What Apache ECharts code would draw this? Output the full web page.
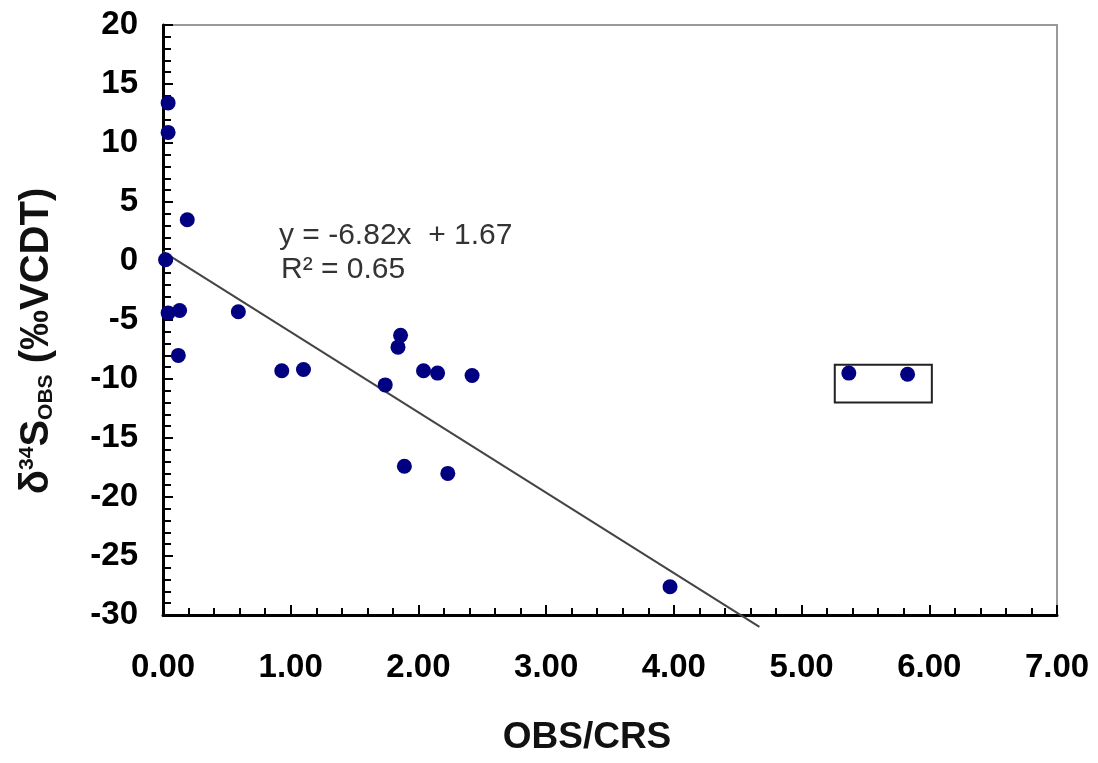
<!DOCTYPE html>
<html>
<head>
<meta charset="utf-8">
<script src="https://cdn.jsdelivr.net/npm/echarts@6/dist/echarts.min.js"></script>
<style>html,body{margin:0;padding:0;background:#fff;}#c{width:1098px;height:763px;}</style>
</head>
<body>
<div id="c"></div>
<script>
const obsCrs = [0.04, 0.04, 0.19, 0.02, 0.04, 0.13, 0.12, 0.59, 0.93, 1.10, 1.74, 1.86, 1.84, 2.04, 2.15, 2.42, 1.89, 2.23, 3.97, 5.37, 5.83];
const d34S   = [13.4, 10.9, 3.5, 0.1, -4.4, -4.2, -8.0, -4.3, -9.3, -9.2, -10.5, -6.3, -7.3, -9.3, -9.5, -9.7, -17.4, -18.0, -27.6, -9.5, -9.6];
const trendX = [0, 4.67];
const trendY = [0.8, -31.0];
const boxCorners = [[5.26, -8.8], [6.02, -12.0]];
const eqLine1 = 'y = -6.82x  + 1.67';
const eqLine2 = 'R² = 0.65';

const pts = obsCrs.map((x, i) => [x, d34S[i]]);
const trend = trendX.map((x, i) => [x, trendY[i]]);

const tickLabel = {
  fontFamily: 'Liberation Sans, Arial, sans-serif',
  fontWeight: 'bold',
  fontSize: 33,
  color: '#000',
  textShadowColor: 'rgba(0,0,0,0.35)',
  textShadowOffsetX: 1,
  textShadowOffsetY: 2
};
const ff = 'Liberation Sans, Arial, sans-serif';

const chart = echarts.init(document.getElementById('c'));
chart.setOption({
  animation: false,
  backgroundColor: '#fff',
  grid: { left: 163, top: 25, right: 41, bottom: 148, show: true, borderColor: '#999', borderWidth: 2, backgroundColor: '#fff' },
  xAxis: {
    type: 'value', min: 0, max: 7, interval: 1,
    name: 'OBS/CRS', nameLocation: 'middle', nameGap: 104,
    nameTextStyle: { fontFamily: ff, fontWeight: 'bold', fontSize: 37, color: '#111', padding: [0, 46, 0, 0] },
    axisLine: { onZero: false, lineStyle: { color: '#000', width: 3 } },
    axisTick: { inside: true, length: 10, lineStyle: { color: '#000', width: 2 } },
    minorTick: { show: true, splitNumber: 5, length: 7, lineStyle: { color: '#000', width: 2 } },
    splitLine: { show: false },
    axisLabel: Object.assign({ margin: 36, formatter: v => v.toFixed(2) }, tickLabel)
  },
  yAxis: {
    type: 'value', min: -30, max: 20, interval: 5,
    name: '{a|δ}{sup|34}{a|S}{sub|OBS}{a| (‰VCDT)}', nameLocation: 'middle', nameGap: 106,
    nameTextStyle: {
      padding: [0, 42, 0, 0],
      rich: {
        a: { fontFamily: ff, fontWeight: 'bold', fontSize: 40, color: '#111' },
        sup: { fontFamily: ff, fontWeight: 'bold', fontSize: 21, color: '#111', verticalAlign: 'top', padding: [0, 0, 16, 0] },
        sub: { fontFamily: ff, fontWeight: 'bold', fontSize: 21, color: '#111', verticalAlign: 'bottom', padding: [12, 0, 0, 0] }
      }
    },
    axisLine: { onZero: false, lineStyle: { color: '#000', width: 3 } },
    axisTick: { inside: true, length: 10, lineStyle: { color: '#000', width: 2 } },
    minorTick: { show: true, splitNumber: 5, length: 8, lineStyle: { color: '#000', width: 2 } },
    splitLine: { show: false },
    axisLabel: Object.assign({ margin: 25 }, tickLabel)
  },
  series: [
    {
      type: 'line', data: trend, symbol: 'none', clip: false, z: 2,
      lineStyle: { color: '#444', width: 2 }
    },
    {
      type: 'scatter', data: pts, symbol: 'circle', symbolSize: 15, z: 3,
      itemStyle: { color: '#000080', opacity: 1 },
      markArea: {
        silent: true,
        itemStyle: { color: 'rgba(0,0,0,0)', borderColor: '#222', borderWidth: 2 },
        data: [[{ coord: boxCorners[0] }, { coord: boxCorners[1] }]]
      }
    }
  ],
  graphic: [
    { type: 'text', left: 279, top: 221, style: { text: eqLine1, fontFamily: ff, fontSize: 30, fill: '#333' } },
    { type: 'text', left: 281, top: 255, style: { text: eqLine2, fontFamily: ff, fontSize: 30, fill: '#333' } }
  ]
});
</script>
</body>
</html>
